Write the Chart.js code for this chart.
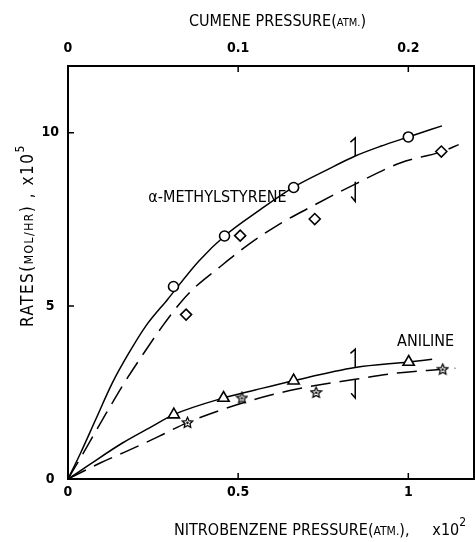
<!DOCTYPE html>
<html>
<head>
<meta charset="utf-8">
<script src="https://cdn.jsdelivr.net/npm/chart.js@4/dist/chart.umd.min.js"></script>
<style>
    body { margin: 0; background: #fff; }
    canvas { display: block; }
</style>
</head>
<body>
<canvas id="myChart" width="476" height="542"></canvas>
<script>
/** 刻度 */
var nitroTicks = [0, 0.5, 1]
var cumeneTicks = [0, 0.1, 0.2]
var rateTicks = [0, 5, 10]

/** α-methylstyrene 实线 (圆点) */
var msSolidX = [0, 0.037, 0.081, 0.13, 0.179, 0.228, 0.292, 0.384, 0.46, 0.565, 0.663, 0.761, 0.844, 0.918, 1.0, 1.099]
var msSolidY = [0, 0.75, 1.71, 2.77, 3.64, 4.41, 5.18, 6.29, 7.02, 7.78, 8.43, 8.93, 9.33, 9.61, 9.88, 10.2]
var circleX = [0.31, 0.46, 0.663, 1.0]
var circleY = [5.56, 7.02, 8.42, 9.88]

/** α-methylstyrene 虚线 (菱形) */
var msDashX = [0, 0.042, 0.101, 0.165, 0.223, 0.277, 0.331, 0.369, 0.443, 0.526, 0.619, 0.702, 0.844, 0.976, 1.099, 1.148]
var msDashY = [0, 0.70, 1.71, 2.77, 3.64, 4.41, 5.1, 5.5, 6.1, 6.74, 7.35, 7.8, 8.52, 9.13, 9.46, 9.66]
var diamondX = [0.347, 0.506, 0.725, 1.097]
var diamondY = [4.75, 7.03, 7.51, 9.46]

/** aniline 实线 (三角) */
var anSolidX = [0, 0.062, 0.16, 0.238, 0.311, 0.457, 0.55, 0.663, 0.844, 1.001, 1.07]
var anSolidY = [0, 0.41, 1.04, 1.47, 1.86, 2.34, 2.57, 2.84, 3.22, 3.38, 3.46]
var triangleX = [0.311, 0.457, 0.663, 1.001]
var triangleY = [1.86, 2.34, 2.84, 3.38]

/** aniline 虚线 (星) */
var anDashX = [0, 0.096, 0.165, 0.267, 0.351, 0.525, 0.673, 0.844, 0.967, 1.101, 1.138]
var anDashY = [0, 0.47, 0.77, 1.23, 1.63, 2.23, 2.6, 2.88, 3.06, 3.17, 3.2]
var starX = [0.351, 0.511, 0.729, 1.101]
var starY = [1.63, 2.34, 2.5, 3.17]

/** 断点记号 */
var breakMsSolidX = [0.830, 0.844, 0.844]
var breakMsSolidY = [9.73, 9.85, 9.33]
var breakMsDashX = [0.844, 0.844, 0.832]
var breakMsDashY = [8.59, 8.02, 8.16]
var breakAnSolidX = [0.830, 0.844, 0.844]
var breakAnSolidY = [3.63, 3.75, 3.22]
var breakAnDashX = [0.844, 0.844, 0.832]
var breakAnDashY = [2.88, 2.34, 2.48]

var FONT = '"DejaVu Sans Condensed", "DejaVu Sans", sans-serif'

var rateChart = {
    chart: null,
    init: function () {
        var f = rateChart.funcs
        var ctx = document.getElementById('myChart').getContext('2d')
        rateChart.chart = new Chart(ctx, {
            type: 'scatter',
            data: {
                datasets: [
                    f.markers(circleX, circleY, 'circle', 5),
                    f.markers(diamondX, diamondY, 'rectRot', 5.5),
                    f.markers(triangleX, triangleY, 'triangle', 6.5),
                    f.markers(starX, starY, f.starImage(), 5),
                    f.line(msSolidX, msSolidY, []),
                    f.line(msDashX, msDashY, [20, 9]),
                    f.line(anSolidX, anSolidY, []),
                    f.line(anDashX, anDashY, [20, 9]),
                    f.mark(breakMsSolidX, breakMsSolidY),
                    f.mark(breakMsDashX, breakMsDashY),
                    f.mark(breakAnSolidX, breakAnSolidY),
                    f.mark(breakAnDashX, breakAnDashY)
                ]
            },
            options: {
                responsive: false,
                animation: false,
                devicePixelRatio: 1,
                layout: { autoPadding: false, padding: { left: 0, right: 2, top: 0, bottom: 0 } },
                plugins: { legend: { display: false }, tooltip: { enabled: false } },
                scales: {
                    x: f.axis('bottom', 0, 1.193, nitroTicks, 5, function (s) { s.height = 63 }),
                    x2: f.axis('top', 0, 0.2386, cumeneTicks, 9, function (s) { s.height = 66 }),
                    y: f.axis('left', 0, 11.93, rateTicks, 9, function (s) { s.width = 68 })
                }
            },
            plugins: [rateChart.framePlugin, rateChart.textPlugin]
        })
    },
    funcs: {
        zip: function (xs, ys) {
            return xs.map(function (x, i) { return { x: x, y: ys[i] } })
        },
        markers: function (xs, ys, style, r) {
            return {
                data: rateChart.funcs.zip(xs, ys),
                pointStyle: style,
                pointRadius: r,
                pointHoverRadius: r,
                pointBorderWidth: 1.6,
                pointBorderColor: '#000',
                pointBackgroundColor: '#fff',
                showLine: false,
                order: 0
            }
        },
        line: function (xs, ys, dash) {
            return {
                data: rateChart.funcs.zip(xs, ys),
                showLine: true,
                borderColor: '#000',
                borderWidth: 1.5,
                borderDash: dash,
                pointRadius: 0,
                tension: 0.4,
                cubicInterpolationMode: 'monotone',
                order: 1
            }
        },
        mark: function (xs, ys) {
            return {
                data: rateChart.funcs.zip(xs, ys),
                showLine: true,
                borderColor: '#000',
                borderWidth: 1.5,
                pointRadius: 0,
                tension: 0,
                order: 1
            }
        },
        axis: function (pos, min, max, ticks, pad, fit) {
            var o = {
                type: 'linear',
                position: pos,
                min: min,
                max: max,
                grid: { display: false, drawTicks: false },
                border: { display: false },
                ticks: {
                    color: '#000',
                    padding: pad,
                    autoSkip: false,
                    maxRotation: 0,
                    font: { family: FONT, size: 14, weight: 'bold' },
                    callback: function (v) { return String(v) }
                },
                afterBuildTicks: function (s) {
                    s.ticks = ticks.map(function (v) { return { value: v } })
                },
                afterFit: function (s) {
                    fit(s)
                    // 不要让刻度文字撑开绘图区
                    s.paddingLeft = 0
                    s.paddingRight = 0
                    s.paddingTop = 0
                    s.paddingBottom = 0
                }
            }
            if (pos === 'left') o.ticks.crossAlign = 'center'
            return o
        },
        starImage: function () {
            var c = document.createElement('canvas')
            c.width = 13
            c.height = 13
            var g = c.getContext('2d')
            g.beginPath()
            for (var i = 0; i < 10; i++) {
                var a = -Math.PI / 2 + i * Math.PI / 5
                var r = i % 2 === 0 ? 5.5 : 2.6
                var px = 6.5 + r * Math.cos(a)
                var py = 6.8 + r * Math.sin(a)
                if (i === 0) g.moveTo(px, py)
                else g.lineTo(px, py)
            }
            g.closePath()
            g.fillStyle = '#fff'
            g.fill()
            g.lineWidth = 1.3
            g.strokeStyle = '#000'
            g.stroke()
            g.beginPath()
            g.arc(6.5, 6.8, 1.2, 0, Math.PI * 2)
            g.fillStyle = '#000'
            g.fill()
            return c
        },
        /** 画多段文字(小号大写、上标) */
        drawRuns: function (ctx, runs, x, y, spacing) {
            runs.forEach(function (r) {
                ctx.font = r[1] + 'px ' + FONT
                ctx.letterSpacing = (spacing || 0) + 'px'
                ctx.fillText(r[0], x, y - (r[2] || 0))
                x += ctx.measureText(r[0]).width
            })
            ctx.letterSpacing = '0px'
        },
        runsWidth: function (ctx, runs) {
            var w = 0
            runs.forEach(function (r) {
                ctx.font = r[1] + 'px ' + FONT
                w += ctx.measureText(r[0]).width
            })
            return w
        }
    },
    /** 外框和向内的刻度 */
    framePlugin: {
        id: 'frame',
        afterDatasetsDraw: function (chart) {
            var ctx = chart.ctx
            var a = chart.chartArea
            var sx = chart.scales.x, sx2 = chart.scales.x2, sy = chart.scales.y
            ctx.save()
            ctx.strokeStyle = '#000'
            ctx.lineWidth = 2
            ctx.strokeRect(a.left, a.top, a.right - a.left, a.bottom - a.top)
            ctx.lineWidth = 1.5
            ctx.beginPath()
            nitroTicks.slice(1).forEach(function (v) {
                var px = sx.getPixelForValue(v)
                ctx.moveTo(px, a.bottom)
                ctx.lineTo(px, a.bottom - 6)
            })
            cumeneTicks.slice(1).forEach(function (v) {
                var px = sx2.getPixelForValue(v)
                ctx.moveTo(px, a.top)
                ctx.lineTo(px, a.top + 6)
            })
            rateTicks.slice(1).forEach(function (v) {
                var py = sy.getPixelForValue(v)
                ctx.moveTo(a.left, py)
                ctx.lineTo(a.left + 6, py)
            })
            ctx.stroke()
            ctx.restore()
        }
    },
    /** 坐标轴标题和曲线名称 */
    textPlugin: {
        id: 'texts',
        afterDraw: function (chart) {
            var f = rateChart.funcs
            var ctx = chart.ctx
            var sx = chart.scales.x, sy = chart.scales.y
            ctx.save()
            ctx.fillStyle = '#000'
            ctx.textBaseline = 'alphabetic'
            ctx.textAlign = 'left'

            var top = [['CUMENE PRESSURE(', 16], ['ATM.', 11], [')', 16]]
            f.drawRuns(ctx, top, 277.5 - f.runsWidth(ctx, top) / 2, 26)

            var bottom = [['NITROBENZENE PRESSURE(', 16], ['ATM.', 12], ['),', 16], ['     x10', 16], ['2', 12, 9]]
            f.drawRuns(ctx, bottom, 174, 535)

            ctx.save()
            ctx.translate(33, 327)
            ctx.rotate(-Math.PI / 2)
            f.drawRuns(ctx, [['RATES(', 17], ['MOL/HR', 12], [') , x10', 17], ['5', 12, 9]], 0, 0, 1.5)
            ctx.restore()

            ctx.font = '16px ' + FONT
            ctx.fillText('α-METHYLSTYRENE', sx.getPixelForValue(0.236), sy.getPixelForValue(8.01))
            ctx.fillText('ANILINE', sx.getPixelForValue(0.967), sy.getPixelForValue(3.85))
            ctx.restore()
        }
    }
}

rateChart.init()
</script>
</body>
</html>
